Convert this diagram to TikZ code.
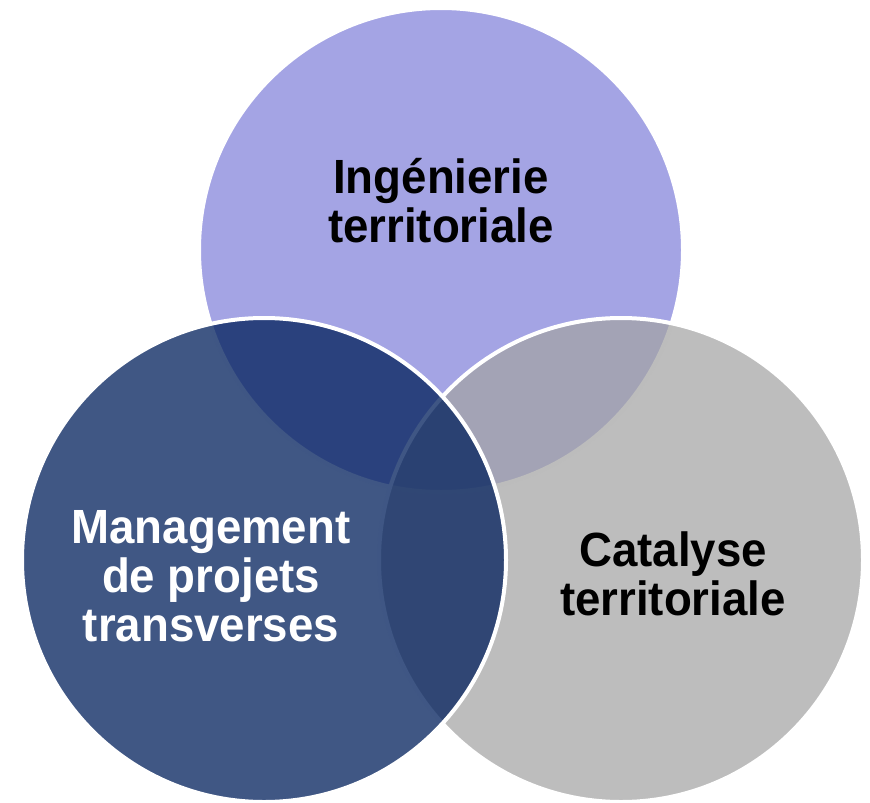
\documentclass[tikz,border=0pt]{standalone}
\usepackage{fontspec}
\setmainfont{Liberation Sans}[FakeStretch=0.95]
\usepackage{tikz}
\usetikzlibrary{positioning}

\definecolor{ingcolor}{HTML}{A4A4E4}
\definecolor{catcolor}{HTML}{A3A3A3}
\definecolor{mancolor}{HTML}{06245F}

\begin{document}
\begin{tikzpicture}[
        x=1pt, y=-1pt,
        bubble/.style={circle, draw=white, line width=4pt, minimum size=484pt, inner sep=0pt},
        caption/.style={align=center, font=\fontsize{48}{49}\selectfont\bfseries},
    ]
    \useasboundingbox (0,0) rectangle (870,803);
    \node[bubble, fill=ingcolor] (ing) at (441,250) {};
    \node[bubble, fill=catcolor, fill opacity=0.72] (cat) at (621,560) {};
    \node[bubble, fill=mancolor, fill opacity=0.77] (man) at (264,560) {};
    \node[caption, black] (ingtext) at (441,201) {Ingénierie\\territoriale};
    \node[caption, black] (cattext) at (673,574) {Catalyse\\territoriale};
    \node[caption, white] (mantext) at (211,576) {Management\\de projets\\transverses};
\end{tikzpicture}
\end{document}
